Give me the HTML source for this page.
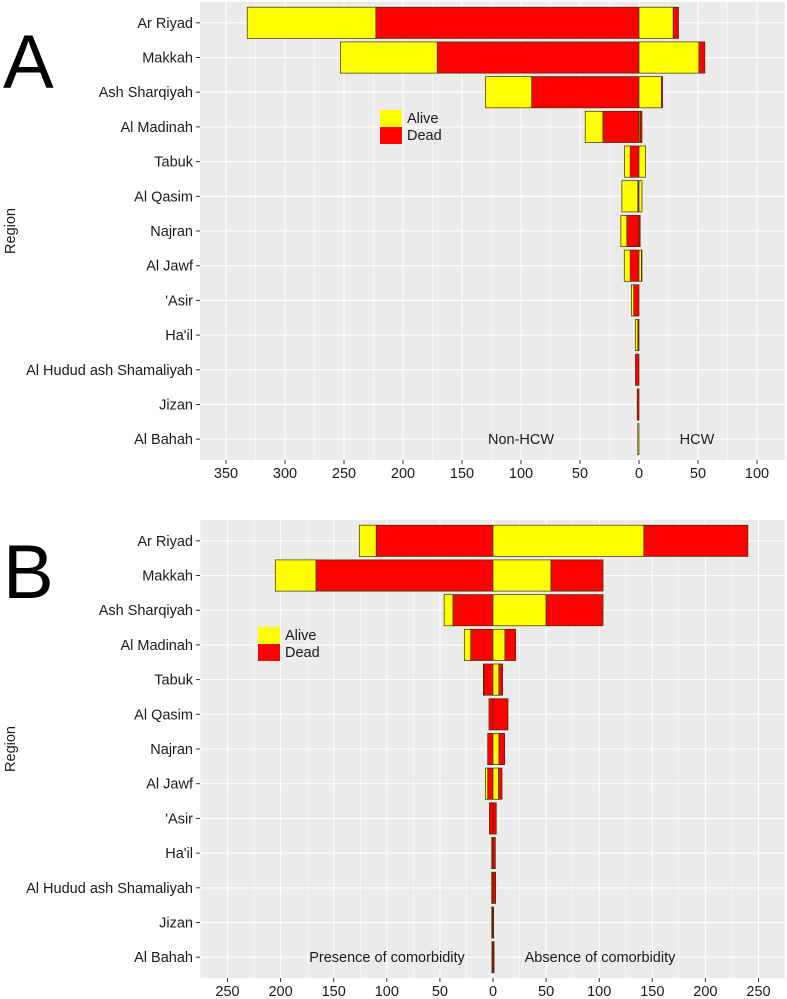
<!DOCTYPE html>
<html><head><meta charset="utf-8">
<style>
html,body{margin:0;padding:0;background:#fff;}
svg{display:block;font-family:"Liberation Sans",Arial,sans-serif;}
</style></head>
<body>
<svg id="chart" width="787" height="999" viewBox="0 0 787 999" xmlns="http://www.w3.org/2000/svg"></svg>
<script>
const regions = ["Ar Riyad","Makkah","Ash Sharqiyah","Al Madinah","Tabuk","Al Qasim","Najran","Al Jawf","'Asir","Ha'il","Al Hudud ash Shamaliyah","Jizan","Al Bahah"];
// Panel A: left = Non-HCW, right = HCW
const aLeftDead  = [223, 171, 91, 30.6, 7.5, 1, 10.3, 7.5, 4.5, 1, 3, 1.5, 0];
const aLeftAlive = [109, 82, 39, 15, 4.8, 13.5, 5.1, 5, 2, 2, 0, 0, 1];
const aRightAlive= [29, 50.8, 19, 1, 5.6, 2.5, 0, 2, 0, 0, 0, 0, 0];
const aRightDead = [4.5, 5, 1, 1.5, 0, 0, 1, 0.5, 0, 0, 0, 0, 0];
const aTicks = [350,300,250,200,150,100,50,0,50,100];
// Panel B: left = presence of comorbidity, right = absence
const bLeftDead  = [110, 166.7, 37.7, 21, 8.5, 3.8, 5, 5, 3.4, 1.2, 1.2, 1.2, 1];
const bLeftAlive = [15.9, 38.3, 8.3, 6, 0.6, 0, 0, 2.2, 0, 0, 0, 0, 0];
const bRightAlive= [142, 54.6, 50, 11.3, 5.6, 0, 5.6, 5.3, 0, 0, 0, 0, 0];
const bRightDead = [98, 49, 53.6, 10, 3.5, 14.1, 5.4, 3.2, 3.1, 2.2, 2.5, 0.6, 1];
const bTicks = [250,200,150,100,50,0,50,100,150,200,250];

const NS="http://www.w3.org/2000/svg";
const svg=document.getElementById('chart');
const FS=14.5;
function mk(tag,attrs,parent){const e=document.createElementNS(NS,tag);for(const k in attrs)e.setAttribute(k,attrs[k]);(parent||svg).appendChild(e);return e;}

function panel(cfg){
  const g=mk('g',{});
  
  
  const L=200,R=785,T=cfg.top,B=cfg.top+458;
  const step=(B-T)/13.2;
  const y=i=>T+step*(0.6+i);
  const x=v=>cfg.zero+v*cfg.scale;
  const bg=mk('rect',{x:L,y:T,width:R-L,height:B-T,fill:'#EBEBEB'},g);
  
  
  const minV=(L-cfg.zero)/cfg.scale, maxV=(R-cfg.zero)/cfg.scale;
  for(let v=Math.ceil(minV/25)*25; v<=maxV; v+=25){
    const isMaj=(Math.abs(v)%50===0);
    mk('line',{x1:x(v),x2:x(v),y1:T,y2:B,stroke:'#fff','stroke-width':isMaj?1.1:0.5},g);
  }
  regions.forEach((r,i)=>{
    mk('line',{x1:L,x2:R,y1:y(i),y2:y(i),stroke:'#fff','stroke-width':1.1},g);
  });
  const h=step*0.9;
  function bar(v0,v1,i,fill,name){
    if(v1===v0)return;
    const xa=Math.min(x(v0),x(v1)), xb=Math.max(x(v0),x(v1));
    const rc=mk('rect',{x:xa,y:y(i)-h/2,width:Math.max(xb-xa,0.6),height:h,fill:fill,stroke:'#3a3000','stroke-width':0.7},g);
    
    
  }
  regions.forEach((r,i)=>{
    const ld=cfg.ld[i], la=cfg.la[i], ra=cfg.ra[i], rd=cfg.rd[i];
    bar(0,-ld,i,'#FF0000','bar-left-dead');
    bar(-ld,-(ld+la),i,'#FFFF00','bar-left-alive');
    bar(0,ra,i,'#FFFF00','bar-right-alive');
    bar(ra,ra+rd,i,'#FF0000','bar-right-dead');
    const t=mk('text',{x:L-7,y:y(i)+5,'text-anchor':'end','font-size':FS,fill:'#1a1a1a'},g);
    t.textContent=r;
    
    
    mk('line',{x1:L-4,x2:L,y1:y(i),y2:y(i),stroke:'#333','stroke-width':1},g);
  });
  cfg.ticks.forEach((tv,k)=>{
    const signed = k<cfg.zeroIdx ? -tv : tv;
    const xx=x(signed);
    mk('line',{x1:xx,x2:xx,y1:B,y2:B+4,stroke:'#333','stroke-width':1},g);
    const t=mk('text',{x:xx,y:B+18,'text-anchor':'middle','font-size':FS,fill:'#1a1a1a'},g);
    t.textContent=tv;
    
    
  });
  const a1=mk('text',{x:cfg.ann[0][1],y:y(12)+5,'text-anchor':'middle','font-size':FS,fill:'#1a1a1a'},g);
  a1.textContent=cfg.ann[0][0];
  
  
  const a2=mk('text',{x:cfg.ann[1][1],y:y(12)+5,'text-anchor':'middle','font-size':FS,fill:'#1a1a1a'},g);
  a2.textContent=cfg.ann[1][0];
  
  
  const yt=mk('text',{x:0,y:0,transform:`translate(15,${(T+B)/2}) rotate(-90)`,'text-anchor':'middle','font-size':FS,fill:'#1a1a1a'},g);
  yt.textContent='Region';
  
  
  const pl=mk('text',{x:3,y:cfg.letterY,'font-size':76,fill:'#000'},g);
  pl.textContent=cfg.letter;
  
  
  const lg=mk('g',{},g);
  
  
  const lx=cfg.legend[0], ly=cfg.legend[1];
  mk('rect',{x:lx,y:ly,width:22,height:17,fill:'#FFFF00'},lg);
  mk('rect',{x:lx,y:ly+17,width:22,height:17,fill:'#FF0000'},lg);
  const l1=mk('text',{x:lx+27,y:ly+13,'font-size':FS,fill:'#1a1a1a'},lg);
  l1.textContent='Alive';
  
  
  const l2=mk('text',{x:lx+27,y:ly+30,'font-size':FS,fill:'#1a1a1a'},lg);
  l2.textContent='Dead';
  
  
}

panel({name:'panel-a',top:2,zero:639,scale:1.18,ld:aLeftDead,la:aLeftAlive,ra:aRightAlive,rd:aRightDead,ticks:aTicks,zeroIdx:7,
  ann:[['Non-HCW',521],['HCW',697]],letter:'A',letterY:88,legend:[380,110]});
panel({name:'panel-b',top:520,zero:493,scale:1.062,ld:bLeftDead,la:bLeftAlive,ra:bRightAlive,rd:bRightDead,ticks:bTicks,zeroIdx:5,
  ann:[['Presence of comorbidity',387],['Absence of comorbidity',600]],letter:'B',letterY:598,legend:[258,627]});
</script>
</body></html>
